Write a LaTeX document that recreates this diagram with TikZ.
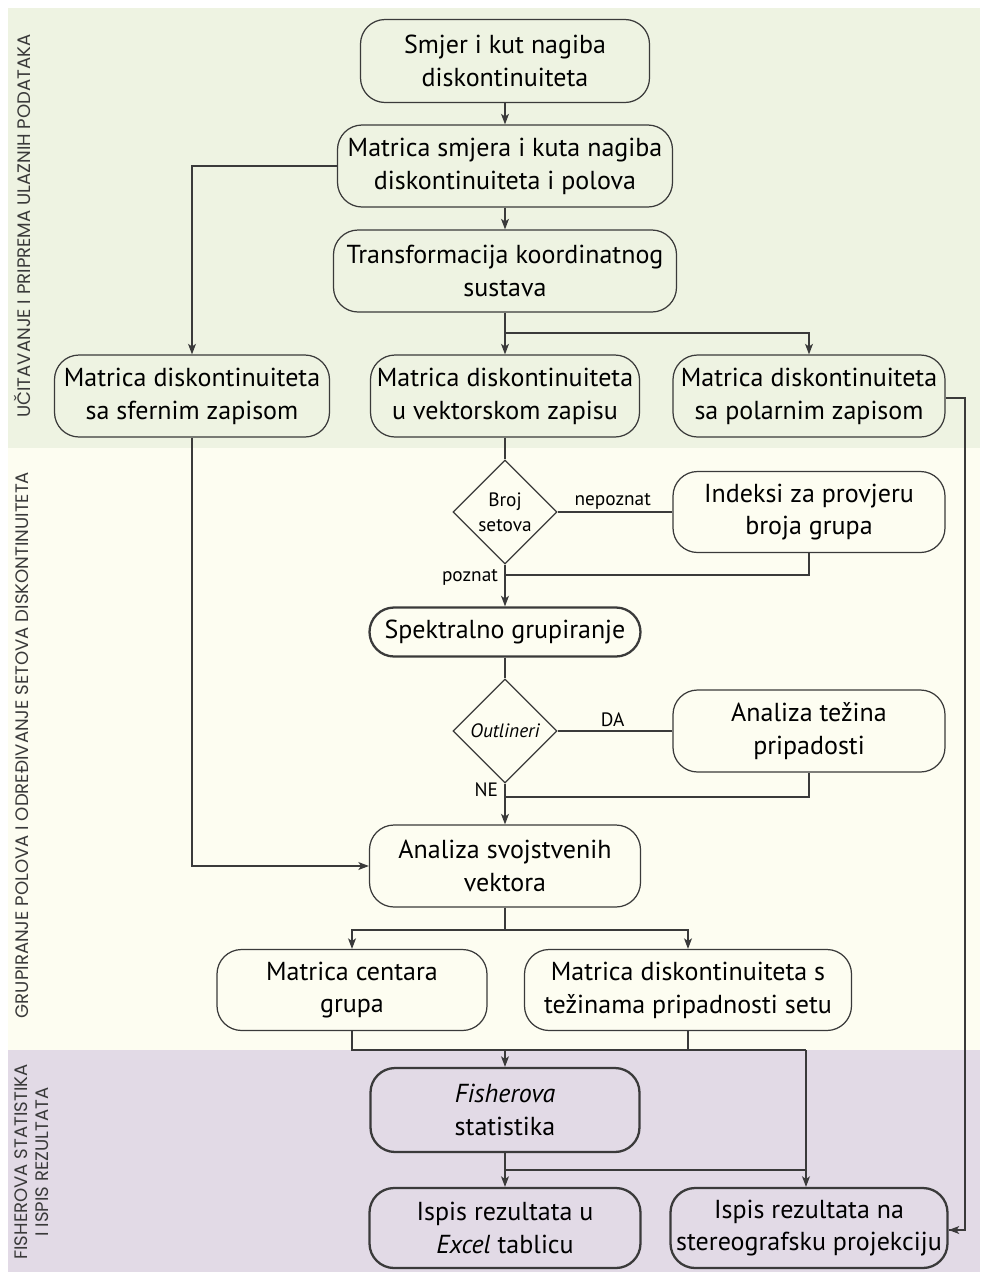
\documentclass[tikz,border=0pt]{standalone}
\usepackage{fontspec}
\setmainfont{PT Sans}
\newfontfamily\sidefont{Poppins}
\usetikzlibrary{shapes.geometric,arrows.meta,positioning}
\definecolor{bgA}{HTML}{EEF3E2}
\definecolor{bgB}{HTML}{FDFDF1}
\definecolor{bgC}{HTML}{E2DAE6}
\definecolor{ln}{HTML}{3A3A3A}
\begin{document}
\begin{tikzpicture}[x=0.02cm,y=-0.02cm,
  box/.style={draw=ln,line width=0.7pt,rounded corners=14pt,align=center,font=\fontsize{14.8}{18.7}\selectfont,inner sep=0pt},
  boxb/.style={box,line width=1.3pt},
  dia/.style={draw=ln,line width=0.7pt,diamond,aspect=1,inner sep=0pt,minimum width=104*0.02cm,minimum height=104*0.02cm,align=center,font=\fontsize{11}{14}\selectfont},
  lbl/.style={font=\fontsize{11}{13}\selectfont,inner sep=1pt},
  side/.style={rotate=90,font=\sidefont\fontsize{10.3}{12}\selectfont,text=ln,align=center},
  arr/.style={draw=ln,line width=0.7pt,-{Stealth[length=6pt,width=4.5pt,inset=1.5pt]}},
  ln/.style={draw=ln,line width=0.7pt}]
\useasboundingbox (0,0) rectangle (982,1272);
\fill[white] (0,0) rectangle (982,1272);
\fill[bgA] (8,8) rectangle (980,448);
\fill[bgB] (8,448) rectangle (980,1050);
\fill[bgC] (8,1050) rectangle (980,1272);
% side labels
\node[side] (s1) at (22,226) {UČITAVANJE I PRIPREMA ULAZNIH PODATAKA};
\node[side] (s2) at (22,745) {GRUPIRANJE POLOVA I ODREĐIVANJE SETOVA DISKONTINUITETA};
\node[side] (s3) at (32,1162) {FISHEROVA STATISTIKA\\I ISPIS REZULTATA};
% nodes
\node[box,minimum width=289*0.02cm,minimum height=83*0.02cm] (b1) at (505,61) {Smjer i kut nagiba\\diskontinuiteta};
\node[box,minimum width=335*0.02cm,minimum height=82*0.02cm] (b2) at (505,166) {Matrica smjera i kuta nagiba\\diskontinuiteta i polova};
\node[box,minimum width=343*0.02cm,minimum height=82*0.02cm] (b3) at (505,271) {Transformacija koordinatnog\\sustava};
\node[box,minimum width=275*0.02cm,minimum height=82*0.02cm] (b4) at (192,396) {Matrica diskontinuiteta\\sa sfernim zapisom};
\node[box,minimum width=269*0.02cm,minimum height=82*0.02cm] (b5) at (505,396) {Matrica diskontinuiteta\\u vektorskom zapisu};
\node[box,minimum width=272*0.02cm,minimum height=82*0.02cm] (b6) at (809,396) {Matrica diskontinuiteta\\sa polarnim zapisom};
\node[dia] (d1) at (505,512) {Broj\\setova};
\node[box,minimum width=272*0.02cm,minimum height=81*0.02cm] (b7) at (809,512) {Indeksi za provjeru\\broja grupa};
\node[boxb,minimum width=271*0.02cm,minimum height=49*0.02cm] (b8) at (505,632) {Spektralno grupiranje};
\node[dia] (d2) at (505,731) {\itshape Outlineri};
\node[box,minimum width=272*0.02cm,minimum height=82*0.02cm] (b9) at (809,731) {Analiza težina\\pripadosti};
\node[box,minimum width=271*0.02cm,minimum height=82*0.02cm] (b10) at (505,866) {Analiza svojstvenih\\vektora};
\node[box,minimum width=270*0.02cm,minimum height=81*0.02cm] (b11) at (352,990) {Matrica centara\\grupa};
\node[box,minimum width=327*0.02cm,minimum height=81*0.02cm] (b12) at (688,990) {Matrica diskontinuiteta s\\težinama pripadnosti setu};
\node[boxb,minimum width=269*0.02cm,minimum height=84*0.02cm] (b13) at (505,1110) {\itshape Fisherova\\statistika};
\node[boxb,minimum width=271*0.02cm,minimum height=80*0.02cm] (b14) at (505,1228) {Ispis rezultata u\\\textit{Excel} tablicu};
\node[boxb,minimum width=277*0.02cm,minimum height=80*0.02cm] (b15) at (809,1228) {Ispis rezultata na\\stereografsku projekciju};
% coordinates
\coordinate (j1) at (505,333);
\coordinate (j2) at (505,575);
\coordinate (j3) at (505,797);
\coordinate (j4) at (505,930);
\coordinate (j5) at (505,1050);
\coordinate (j6) at (806,1050);
\coordinate (j7) at (505,1170);
\coordinate (r1) at (965,398);
% connectors
\draw[arr] (b1) -- (b2);
\draw[arr] (b2) -- (b3);
\draw[arr] (b2.west) -| (b4.north);
\draw[arr] (b3.south) -- (b5.north);
\draw[arr] (j1) -| (b6.north);
\draw[ln] (b6.east |- r1) -- (r1) |- (b15.east |- 0,1230) coordinate (r2);
\draw[arr] (r1 |- r2) -- (r2);
\draw[ln] (b5.south) -- (d1.north);
\draw[ln] (d1.east) -- node[lbl,above,pos=0.48] {nepoznat} (b7.west);
\draw[ln] (b7.south) |- (j2);
\draw[arr] (d1.south) -- (b8.north);
\node[lbl,anchor=east] (pz) at (500,577) {poznat};
\draw[ln] (b8.south) -- (d2.north);
\draw[ln] (d2.east) -- node[lbl,above,pos=0.48,yshift=1pt] {DA} (b9.west);
\draw[ln] (b9.south) |- (j3);
\draw[arr] (d2.south) -- (b10.north);
\node[lbl,anchor=east] (ne) at (500,790) {NE};
\draw[arr] (b4.south) |- (b10.west);
\draw[ln] (b10.south) -- (j4);
\draw[arr] (j4) -| (b11.north);
\draw[arr] (j4) -| (b12.north);
\draw[ln] (b11.south) |- (j6);
\draw[ln] (b12.south) -- (b12.south |- j6);
\draw[arr] (j5) -- (b13.north);
\draw[arr] (j6) -- (b15.north -| j6);
\draw[ln] (b13.south) -- (j7);
\draw[ln] (j7) -- (j7 -| j6);
\draw[arr] (j7) -- (b14.north);
\end{tikzpicture}
\end{document}
